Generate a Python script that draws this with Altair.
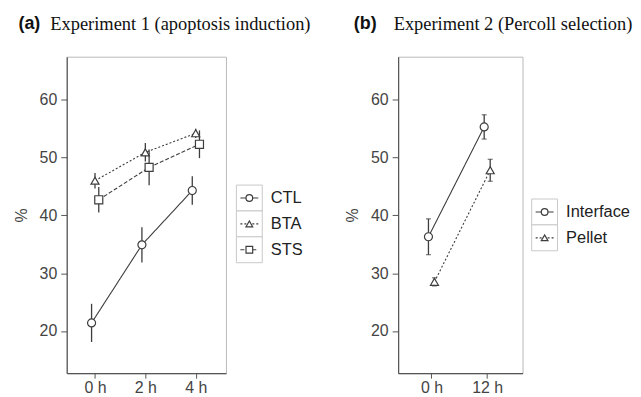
import json
import altair as alt
import pandas as pd

# ---------------- data ----------------
exp1_title_tag = "(a)"
exp1_title = "Experiment 1 (apoptosis induction)"
exp1_times = ["0 h", "2 h", "4 h"]
exp1_groups = ["CTL", "BTA", "STS"]
ctl_mean = [21.4, 34.9, 44.3]
ctl_err = [3.3, 3.05, 2.45]
bta_mean = [46.0, 50.9, 54.2]
bta_err = [1.35, 1.6, 0.8]
sts_mean = [42.7, 48.3, 52.3]
sts_err = [2.2, 3.1, 2.4]

exp2_title_tag = "(b)"
exp2_title = "Experiment 2 (Percoll selection)"
exp2_times = ["0 h", "12 h"]
exp2_groups = ["Interface", "Pellet"]
interface_mean = [36.3, 55.3]
interface_err = [3.1, 2.1]
pellet_mean = [28.5, 47.8]
pellet_err = [0.7, 1.9]

y_title = "%"
y_ticks = [20, 30, 40, 50, 60]

# ---------------- styles ----------------
INK = "#3d3d3d"
FONT = "Liberation Sans"
SERIF = "Liberation Serif"
Y_DOMAIN = [12.7, 67.45]
PLOT_H = 318

shapes1 = ["circle", "triangle-up", "square"]
dashes1 = [[1, 0], [2, 2], [4, 2]]
dodge1 = [-0.068, 0.0, 0.075]
shapes2 = ["circle", "triangle-up"]
dashes2 = [[1, 0], [2, 2]]
dodge2 = [-0.054, 0.054]


def build_df(times, groups, means, errs, dodge):
    rows = []
    for g, m_list, e_list, d in zip(groups, means, errs, dodge):
        for i, (m, e) in enumerate(zip(m_list, e_list)):
            rows.append({"time": times[i], "ti": i, "xpos": i + d, "group": g,
                         "mean": m, "lo": m - e, "hi": m + e})
    return pd.DataFrame(rows)


df1 = build_df(exp1_times, exp1_groups, [ctl_mean, bta_mean, sts_mean],
               [ctl_err, bta_err, sts_err], dodge1)
df2 = build_df(exp2_times, exp2_groups, [interface_mean, pellet_mean],
               [interface_err, pellet_err], dodge2)


def panel(df, times, groups, shapes, dashes, xdomain, width, tag, title,
          tag_x, title_x, caps):
    xs = alt.X("xpos:Q", scale=alt.Scale(domain=xdomain, nice=False, zero=False),
               axis=alt.Axis(values=list(range(len(times))), title=None,
                             labelExpr=json.dumps(times) + "[datum.value]",
                             tickSize=5, labelPadding=1))
    ys = alt.Y("mean:Q", scale=alt.Scale(domain=Y_DOMAIN, nice=False, zero=False),
               axis=alt.Axis(values=y_ticks, title=y_title, tickSize=6,
                             labelPadding=4, titlePadding=10))
    dash = alt.StrokeDash("group:N", scale=alt.Scale(domain=groups, range=dashes),
                          legend=None)
    shp = alt.Shape("group:N", scale=alt.Scale(domain=groups, range=shapes),
                    legend=None)
    base = alt.Chart(df)
    line = base.mark_line(color=INK, strokeWidth=1.1).encode(
        x=xs, y=ys, strokeDash=dash, detail="group:N")
    err = base.mark_rule(color=INK, strokeWidth=1.3).encode(
        x="xpos:Q", y="lo:Q", y2="hi:Q")
    layers = [line, err]
    if caps:
        for f in ["lo", "hi"]:
            layers.append(base.mark_tick(orient="horizontal", size=5, thickness=1.2,
                                         color=INK).encode(x="xpos:Q", y=f"{f}:Q"))
    pts = base.mark_point(filled=True, fill="white", stroke=INK, strokeWidth=1.2,
                          size=65, opacity=1).encode(x="xpos:Q", y="mean:Q", shape=shp)
    layers.append(pts)
    tdf = pd.DataFrame({"tag": [tag], "title": [title]})
    t1 = alt.Chart(tdf).mark_text(align="left", baseline="middle", font=FONT,
                                  fontWeight="bold", fontSize=18, color="#111").encode(
        x=alt.value(tag_x), y=alt.value(-33), text="tag:N")
    t2 = alt.Chart(tdf).mark_text(align="left", baseline="middle", font=SERIF,
                                  fontSize=18.5, color="#111").encode(
        x=alt.value(title_x), y=alt.value(-33), text="title:N")
    layers += [t1, t2]
    return alt.layer(*layers).properties(width=width, height=PLOT_H)


def legend(groups, shapes, dashes, rng, width, cx, tx):
    ldf = pd.DataFrame({"group": groups})
    ys = alt.Y("group:N", scale=alt.Scale(type="point", domain=groups, range=rng,
                                          padding=0), axis=None)
    base = alt.Chart(ldf)
    box = base.mark_square(size=26 * 26, filled=True, fill="white", stroke="#c9c9c9",
                           strokeWidth=1, opacity=1).encode(x=alt.value(cx), y=ys)
    seg = base.mark_rule(color=INK, strokeWidth=1.1).encode(
        x=alt.value(cx - 9), x2=alt.value(cx + 9), y=ys,
        strokeDash=alt.StrokeDash("group:N", scale=alt.Scale(domain=groups, range=dashes),
                                  legend=None))
    pt = base.mark_point(filled=True, fill="white", stroke=INK, strokeWidth=1.2,
                         size=45, opacity=1).encode(
        x=alt.value(cx), y=ys,
        shape=alt.Shape("group:N", scale=alt.Scale(domain=groups, range=shapes),
                        legend=None))
    txt = base.mark_text(align="left", baseline="middle", font=FONT, fontSize=16.5,
                         color="#222").encode(x=alt.value(tx), y=ys, text="group:N")
    return alt.layer(box, seg, pt, txt).properties(
        width=width, height=PLOT_H, view=alt.ViewBackground(stroke="transparent"))


pA = panel(df1, exp1_times, exp1_groups, shapes1, dashes1, [-0.5616, 2.601], 160,
           exp1_title_tag, exp1_title, -48.5, -16.5, False)
lA = legend(exp1_groups, shapes1, dashes1, [142, 194], 173, 23.5, 45)
pB = panel(df2, exp2_times, exp2_groups, shapes2, dashes2, [-0.598, 1.634], 125,
           exp2_title_tag, exp2_title, -44.5, -4.5, True)
lB = legend(exp2_groups, shapes2, dashes2, [156, 182], 60, 22.2, 43.8)

chart = alt.hconcat(pA, lA, pB, lB, spacing=0, bounds="flush").resolve_scale(
    shape="independent", strokeDash="independent"
).properties(
    padding={"left": 4, "top": 5, "right": 0, "bottom": 0}
).configure_view(stroke="#b8b8b8", strokeWidth=1).configure_axis(
    grid=False, domainColor="#555555", tickColor="#555555", domainWidth=1.2,
    labelFont=FONT, labelFontSize=16, labelColor="#444444",
    titleFont=FONT, titleFontSize=16, titleColor="#444444", titleFontWeight="normal"
)

chart.save("out.html", embed_options={"renderer": "svg", "actions": False})
